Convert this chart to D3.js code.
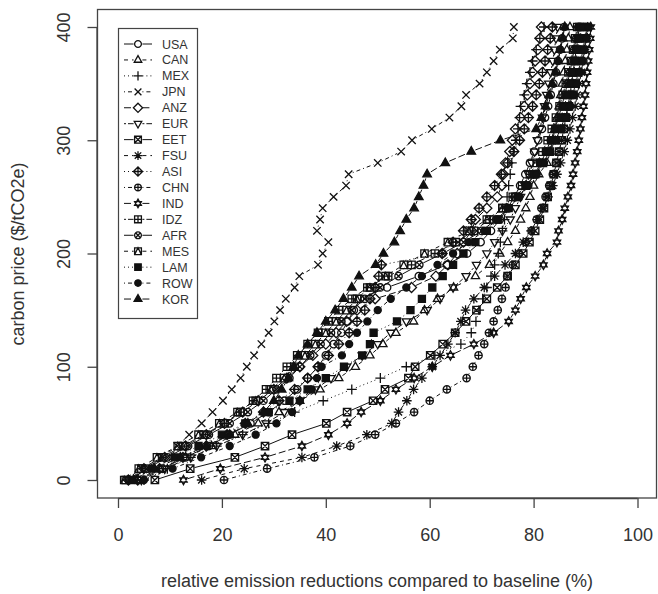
<!DOCTYPE html>
<html><head><meta charset="utf-8">
<script src="https://cdn.jsdelivr.net/npm/d3@7"></script>
<style>body{margin:0;background:#fff} svg{display:block} text{font-family:"Liberation Sans",Arial,sans-serif;fill:#333}</style>
</head><body><svg id="c" width="658" height="594"></svg>
<script>
const prices = [0,10,20,30,40,50,60,70,80,90,100,110,120,130,140,150,160,170,180,190,200,210,220,230,240,250,260,270,280,290,300,310,320,330,340,350,360,370,380,390,400];
const regions = ["USA","CAN","MEX","JPN","ANZ","EUR","EET","FSU","ASI","CHN","IND","IDZ","AFR","MES","LAM","ROW","KOR"];
const xTicks = [0,20,40,60,80,100];
const yTicks = [0,100,200,300,400];

const USA = [4,8.5,13,17.5,21.5,25.5,29,32,34.5,36.5,
  38.5,40,41.5,43,44.2,45.4,46.6,51.8,57.9,63.3,
  67.2,69.8,71.8,73.5,75,76.3,77.4,78.4,79.3,80.1,
  80.9,81.6,82.2,82.8,83.3,83.8,84.3,84.7,85.1,85.5,85.9];
const CAN = [3.5,8,13,18,22.5,27,31,35,38.9,42.5,
  45.7,48.5,51,53.5,56.9,59,61.5,64.6,68.8,71.5,
  73.5,75,76.5,77.5,78.5,79.3,80,81,82.6,83.2,
  83.7,84.1,84.5,84.9,85.2,85.5,85.8,86.1,86.4,86.7,87.0];
const MEX = [5,9.5,14,19,24,29,34,39.5,45,50.5,
  55.5,61,66,68,68.9,69.5,70.2,71,71.8,72.5,
  73.2,73.6,74,74.4,74.7,74.9,75.2,75.5,75.8,76.2,
  76.6,77,77.3,77.5,78.2,78.7,79.3,79.8,80.5,81.2,82.0];
const JPN = [2.5,5.5,8.5,11.4,13.7,16.1,18.2,20.2,21.9,23.6,
  24.8,26.2,27.6,29.0,30.1,31.2,32.3,34.0,34.9,38.5,
  39.4,40.5,38.3,38.9,39.4,41.5,43.9,44.4,50.0,54.5,
  56.6,60.4,63.8,66.1,67.0,69.6,71.0,72.3,73.5,76.0,76.2];
const ANZ = [2,5,9,13,17,20.5,24,27,30,32.5,
  35,37.5,40,42,44,46,49.5,56.5,61.2,63.5,
  65.3,66.5,68.1,68.8,71.0,73.0,73.9,74.2,74.6,75.4,
  75.9,76.5,77.5,78.2,78.8,79.3,79.8,80.3,80.8,81.2,81.5];
const EUR = [4.5,9,14,19,24,28.5,32,35,38,41,
  44,47,50,52.5,55.5,59.5,62,64.5,67,69,
  71,72.5,74,75.5,76.5,77.5,78.3,79,79.6,80.2,
  80.7,81.2,81.7,82.1,82.5,82.9,83.3,83.7,84.0,84.3,84.6];
const EET = [7.1,13.9,22.5,28.3,33.5,40.1,44.1,49.1,51.4,55.9,
  57.2,60.1,62.5,64.9,67,69,71,73,75,76.5,
  78,79.2,80.3,81.2,82,82.7,83.3,83.9,84.4,84.9,
  85.4,85.8,86.2,86.6,87,87.3,87.6,87.9,88.2,88.5,88.8];
const FSU = [16.1,24.3,35.4,42.1,47.9,52.7,54.0,55.6,56.9,58.5,
  60.5,62.0,63.5,64.9,66.0,66.9,68.5,70.5,72.5,74.5,
  76.5,78.0,79.5,80.7,81.8,82.8,83.7,84.5,85.2,85.9,
  86.5,87.0,87.5,88.0,88.4,88.8,89.2,89.5,89.8,90.1,90.4];
const ASI = [3.8,8,12.5,17,21,24.5,28,31,34,36.5,
  38.5,40.5,42.5,44.5,46,47.5,48.5,49.5,50.2,50.7,
  62.4,64.5,66.5,68,69.5,71,72.5,73.8,75,76.2,
  77.3,78.2,79,79.8,80.5,81.1,81.7,82.2,82.7,83.2,83.6];
const CHN = [20.4,28.7,37.8,44.7,49.5,53.5,57,60.0,63.3,67.1,
  68.3,69.4,70.5,71.4,72.3,73.1,73.9,74.6,74.9,76,
  77.2,78.5,79.6,80.6,81.5,82.3,83,83.7,84.3,84.9,
  85.4,85.9,86.3,86.7,87.1,87.4,87.7,88,88.3,88.6,88.9];
const IND = [12.6,19.7,28.3,35.4,40.5,44.1,46.8,50.5,53.5,57,
  60.5,64,68.5,72.3,75.2,76.5,77.5,78.6,80.3,81.9,
  82.6,84.5,84.8,85.5,86,86.6,87.2,87.6,88,88.4,
  88.7,89,89.3,89.6,89.9,90.1,90.3,90.5,90.7,90.9,91.0];
const IDZ = [1.5,4.5,8.5,12.5,16.5,20.5,23.5,26,28.5,30.5,
  32.5,34.5,36.5,38.5,40.5,42.5,45,48,52,56.5,
  61,65,68.5,71.5,74,76,77.8,79.3,80.6,81.7,
  82.7,83.5,84.3,85,85.6,86.2,86.7,87.2,87.6,88,88.4];
const AFR = [2.2,5.5,9.5,13.5,17.5,21.5,25,28,30.5,33,
  35,37,39,41,43,45,47.5,50.5,54,58,
  62.5,66.5,70,72.8,75.2,77.2,78.8,80.2,81.4,82.4,
  83.3,84.1,84.8,85.4,86,86.5,87,87.4,87.8,88.2,88.6];
const MES = [1.2,4,7.5,11.5,15.5,19.5,23,26.5,29.5,32,
  34,36,38,40,42,44,46,48.5,51.5,55,
  59,63.5,67.5,71,74,76.5,78.5,80.3,81.8,83.1,
  84.2,85.2,86,86.8,87.5,88.1,88.6,89.1,89.5,89.9,90.3];
const LAM = [2.8,6.5,11,15.5,20,24.5,29,33,36.5,40,
  43.5,47,48.5,49.2,53.7,56.3,58.5,60.5,62.5,64.5,
  66.5,68.8,71,73.2,75.2,77,78.6,80,81.3,82.5,
  83.5,84.4,85.2,85.9,86.5,87.1,87.6,88.1,88.5,88.9,89.3];
const ROW = [5,10.5,16,21.5,26.5,30.5,33.5,35,37.3,38.3,
  39.2,43.1,44.5,46,48,50,52.5,55.5,58.5,61.5,
  64.5,67.5,70.5,73,75.2,77.2,79,80.6,82,83.2,
  84.3,85.3,86.2,87,87.7,88.3,88.9,89.4,89.8,90.2,90.6];
const KOR = [3,7,12,17,21.5,25,28,30,31.5,32.8,
  33.8,34.7,36.5,38.3,40,41.8,43.4,45.0,46.4,49.6,
  51.1,53.2,54.3,55.5,57.0,57.9,58.8,59.5,63.0,68.0,
  73.6,80.5,81.5,82.3,83,83.6,84.2,84.7,85.2,85.6,86.0];

const seriesValues = [USA,CAN,MEX,JPN,ANZ,EUR,EET,FSU,ASI,CHN,IND,IDZ,AFR,MES,LAM,ROW,KOR];

const svg = d3.select("#c");
const x = d3.scaleLinear().domain([0,100]).range([118,637.5]);
const y = d3.scaleLinear().domain([0,400]).range([480,27]);
const ink = "#111";
const dashes = {1:null,2:"4,4",3:"1,3",4:"1,3,4,3",5:"7,3",6:"2,2,6,2"};
const R = 3.7, GAP = 4.4;
const FONT = "Liberation Sans, Arial, sans-serif";

function symbol(g, pch, cx, cy, r) {
  const p = [];
  let fill = "none";
  const circ = rr => `M${-rr},0A${rr},${rr} 0 1,0 ${rr},0A${rr},${rr} 0 1,0 ${-rr},0Z`;
  const sq = rr => `M${-rr},${-rr}H${rr}V${rr}H${-rr}Z`;
  const plus = rr => `M${-rr},0H${rr}M0,${-rr}V${rr}`;
  const cross = rr => `M${-rr},${-rr}L${rr},${rr}M${-rr},${rr}L${rr},${-rr}`;
  const triU = (rr) => `M0,${-1.2*rr}L${1.05*rr},${0.65*rr}L${-1.05*rr},${0.65*rr}Z`;
  const triD = (rr) => `M0,${1.2*rr}L${1.05*rr},${-0.65*rr}L${-1.05*rr},${-0.65*rr}Z`;
  const dia = rr => `M0,${-rr}L${rr},0L0,${rr}L${-rr},0Z`;
  switch(pch){
    case 1: p.push(circ(r)); break;
    case 2: p.push(triU(r*1.05)); break;
    case 3: p.push(plus(r*1.35)); break;
    case 4: p.push(cross(r)); break;
    case 5: p.push(dia(r*1.35)); break;
    case 6: p.push(triD(r*1.05)); break;
    case 7: p.push(sq(r), cross(r)); break;
    case 8: p.push(plus(r*1.3), cross(r*0.95)); break;
    case 9: p.push(dia(r*1.35), plus(r*1.35)); break;
    case 10: p.push(circ(r), plus(r)); break;
    case 11: p.push(`M0,${-1.25*r}L${r},${0.55*r}L${-r},${0.55*r}Z`, `M0,${1.25*r}L${r},${-0.55*r}L${-r},${-0.55*r}Z`); break;
    case 12: p.push(sq(r), plus(r)); break;
    case 13: p.push(circ(r), cross(r*0.72)); break;
    case 14: p.push(sq(r), `M${-r},${r}L0,${-r}L${r},${r}`); break;
    case 15: p.push(sq(r*0.95)); fill = ink; break;
    case 16: p.push(circ(r*0.95)); fill = ink; break;
    case 17: p.push(triU(r*1.1)); fill = ink; break;
  }
  g.append("path").attr("transform",`translate(${cx},${cy})`)
    .attr("d", p.join("")).attr("fill", fill).attr("stroke", ink).attr("stroke-width", 1.3);
}

// box
svg.append("rect").attr("x",97.5).attr("y",9.5).attr("width",559).attr("height",488.5)
  .attr("fill","none").attr("stroke","#444").attr("stroke-width",1.3);

// axes
const gx = svg.append("g").attr("transform","translate(0,498)")
  .call(d3.axisBottom(x).tickValues(xTicks).tickSize(10).tickPadding(20).tickSizeOuter(0));
gx.select(".domain").attr("d", `M${x(0)},0.5H${x(100)}`).attr("stroke","#444").attr("stroke-width",1.3);
gx.selectAll(".tick line").attr("stroke","#444").attr("stroke-width",1.3);
gx.selectAll(".tick text").attr("font-size",18).attr("fill","#333").style("font-family",FONT);

const gy = svg.append("g").attr("transform","translate(97.5,0)")
  .call(d3.axisLeft(y).tickValues(yTicks).tickSize(10).tickSizeOuter(0));
gy.select(".domain").attr("d", `M-0.5,${y(0)}V${y(400)}`).attr("stroke","#444").attr("stroke-width",1.3);
gy.selectAll(".tick line").attr("stroke","#444").attr("stroke-width",1.3);
gy.selectAll(".tick text").attr("font-size",18).attr("fill","#333")
  .style("font-family",FONT)
  .attr("x",0).attr("dy",0).attr("text-anchor","middle")
  .attr("transform","translate(-28,0) rotate(-90)");

svg.append("text").attr("x",377).attr("y",587).attr("text-anchor","middle").attr("font-size",18)
  .text("relative emission reductions compared to baseline (%)");
svg.append("text").attr("transform","translate(24,254) rotate(-90)").attr("text-anchor","middle").attr("font-size",18)
  .text("carbon price ($/tCO2e)");

// series
const plot = svg.append("g");
seriesValues.forEach((vals, i) => {
  const lty = (i % 6) + 1, pch = i + 1;
  const pts = vals.map((v, j) => [x(v), y(prices[j])]);
  const segs = [];
  for (let j = 0; j < pts.length - 1; j++) {
    const [x0,y0] = pts[j], [x1,y1] = pts[j+1];
    const dx = x1-x0, dy = y1-y0, L = Math.hypot(dx,dy);
    if (L <= 2*GAP) continue;
    const ux = dx/L, uy = dy/L;
    segs.push(`M${x0+ux*GAP},${y0+uy*GAP}L${x1-ux*GAP},${y1-uy*GAP}`);
  }
  plot.append("path").attr("d", segs.join("")).attr("fill","none").attr("stroke",ink)
    .attr("stroke-width",1).attr("stroke-dasharray", dashes[lty]);
  pts.forEach(([px,py]) => symbol(plot, pch, px, py, R));
});

// legend
const lg = svg.append("g");
lg.append("rect").attr("x",118.5).attr("y",28.5).attr("width",79).attr("height",290)
  .attr("fill","#fff").attr("stroke","#444").attr("stroke-width",1.2);
regions.forEach((name, i) => {
  const ry = 44 + i*15.94, lty = (i % 6) + 1;
  lg.append("path").attr("d",`M124,${ry}H${138-GAP}M${138+GAP},${ry}H152`).attr("stroke",ink)
    .attr("stroke-width",1).attr("stroke-dasharray",dashes[lty]).attr("fill","none");
  symbol(lg, i+1, 138, ry, 3.4);
  lg.append("text").attr("x",162).attr("y",ry+4.5).attr("font-size",12.5).attr("fill","#444").text(name);
});
</script></body></html>
